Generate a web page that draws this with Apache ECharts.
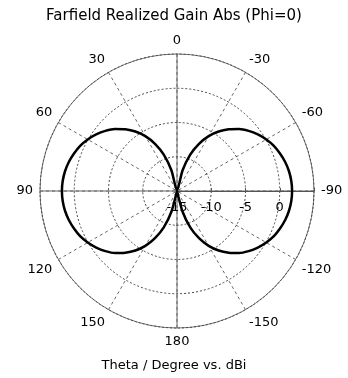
<!DOCTYPE html>
<html><head><meta charset="utf-8">
<script src="https://cdn.jsdelivr.net/npm/echarts@6/dist/echarts.min.js"></script>
<style>html,body{margin:0;padding:0;background:#fff}#c{width:348px;height:378px}</style>
</head><body><div id="c"></div>
<script>
const thetaDeg = [-180,-175,-170,-165,-160,-155,-150,-145,-140,-135,-130,-125,-120,-115,-110,-105,-100,-95,-90,
  -85,-80,-75,-70,-65,-60,-55,-50,-45,-40,-35,-30,-25,-20,-15,-10,-5,0,
  5,10,15,20,25,30,35,40,45,50,55,60,65,70,75,80,85,90,
  95,100,105,110,115,120,125,130,135,140,145,150,155,160,165,170,175,180];
const gainDbi = [-15,-15,-15,-11.9,-9.35,-7.4,-5.75,-4.4,-3.25,-2.2,-1.35,-0.6,0.05,0.6,1.0,1.35,1.6,1.75,1.8,
  1.75,1.6,1.35,1.0,0.6,0.05,-0.6,-1.35,-2.2,-3.25,-4.4,-5.75,-7.4,-9.35,-11.9,-15,-15,-15,
  -15,-15,-11.9,-9.35,-7.4,-5.75,-4.4,-3.25,-2.2,-1.35,-0.6,0.05,0.6,1.0,1.35,1.6,1.75,1.8,
  1.75,1.6,1.35,1.0,0.6,0.05,-0.6,-1.35,-2.2,-3.25,-4.4,-5.75,-7.4,-9.35,-11.9,-15,-15,-15];
const radiusMin = -15, radiusMax = 5, radiusStep = 5;
const titleText = 'Farfield Realized Gain Abs (Phi=0)';
const xLabelText = 'Theta / Degree vs. dBi';

const font = 'DejaVu Sans';
const chart = echarts.init(document.getElementById('c'));
const toPlotAngle = t => (((t + 90) % 360) + 360) % 360;
const fmtAngle = v => { let t = v - 90; if (t > 180) t -= 360; return String(t); };
const txt = {fontFamily: font, fontSize: 13, fontWeight: 'normal', color: '#000'};
const C = [177, 191], R = 137;
const option = {
  animation: false,
  title: [
    {text: titleText, left: 'center', top: 4, textStyle: Object.assign({}, txt, {fontSize: 15})},
    {text: xLabelText, left: 'center', top: 354, textStyle: txt}
  ],
  polar: [{center: C, radius: R}, {center: C, radius: R}],
  angleAxis: [
    {polarIndex: 0, type: 'value', min: 0, max: 360, interval: 30, startAngle: 0, clockwise: false, z: 1,
      axisLine: {show: true, lineStyle: {color: '#777', width: 1}},
      axisTick: {show: false},
      axisLabel: Object.assign({formatter: fmtAngle, margin: 7}, txt),
      splitLine: {show: true, lineStyle: {type: [3, 3], color: '#666', width: 1}}},
    {polarIndex: 1, type: 'value', min: 0, max: 360, interval: 90, startAngle: 0, clockwise: false, z: 1,
      axisLine: {show: false}, axisTick: {show: false}, axisLabel: {show: false},
      splitLine: {show: true, lineStyle: {type: 'solid', color: '#666', width: 1}}}
  ],
  radiusAxis: [
    {polarIndex: 0, type: 'value', min: radiusMin, max: radiusMax, interval: radiusStep, z: 2,
      axisLine: {show: true, lineStyle: {color: '#555', width: 1}},
      axisTick: {show: true, length: 3, lineStyle: {color: '#555'}},
      axisLabel: Object.assign({formatter: v => (v === radiusMax ? '' : String(v)), margin: -10, verticalAlign: 'top'}, txt),
      splitLine: {show: true, lineStyle: {type: [2, 2], color: '#444', width: 1}}},
    {polarIndex: 1, type: 'value', min: radiusMin, max: radiusMax, show: false,
      axisLine: {show: false}, axisLabel: {show: false}, splitLine: {show: false}, axisTick: {show: false}}
  ],
  series: [{
    type: 'line', coordinateSystem: 'polar', polarIndex: 0, z: 5,
    data: thetaDeg.map((t, i) => [gainDbi[i], toPlotAngle(t)]),
    showSymbol: false, smooth: 0.2,
    lineStyle: {color: '#000', width: 2.5}
  }]
};
chart.setOption(option);
</script></body></html>
